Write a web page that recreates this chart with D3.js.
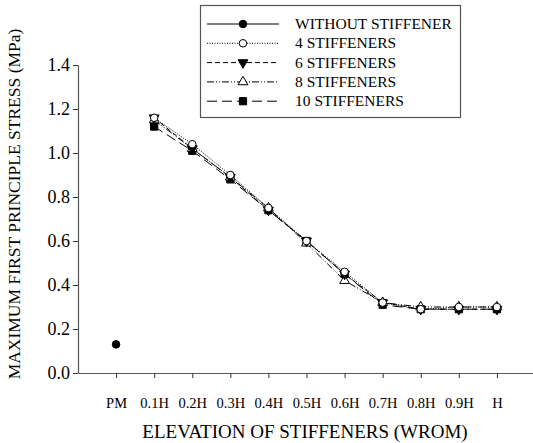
<!DOCTYPE html>
<html><head><meta charset="utf-8">
<script src="https://cdn.jsdelivr.net/npm/d3@7"></script>
<style>body{margin:0;background:#fff}svg{display:block}</style>
</head><body><svg id="c" width="533" height="443" style="font-family:'Liberation Serif','Times New Roman',serif"></svg>
<script>
const categories = ["PM","0.1H","0.2H","0.3H","0.4H","0.5H","0.6H","0.7H","0.8H","0.9H","H"];
const yTicks = [0.0,0.2,0.4,0.6,0.8,1.0,1.2,1.4];
const withoutStiffener = [0.13];
const stiff4  = [1.16,1.04,0.90,0.75,0.60,0.46,0.32,0.29,0.30,0.30];
const stiff6  = [1.16,1.02,0.89,0.74,0.60,0.45,0.32,0.29,0.29,0.29];
const stiff8  = [1.15,1.02,0.89,0.75,0.59,0.42,0.32,0.30,0.30,0.30];
const stiff10 = [1.12,1.01,0.88,0.74,0.60,0.45,0.31,0.29,0.29,0.29];
const seriesNames = ["WITHOUT STIFFENER","4 STIFFENERS","6 STIFFENERS","8 STIFFENERS","10 STIFFENERS"];

const FONT = "Liberation Serif";
const svg = d3.select("#c");
const x = d3.scaleLinear().domain([-1, 11]).range([78, 535]);
const y = d3.scaleLinear().domain([0, 1.4]).range([373, 65]);

const axisColor = "#555";
const gx = svg.append("g").attr("transform","translate(0,373)")
  .call(d3.axisBottom(x).tickValues(d3.range(categories.length)).tickFormat(i=>categories[i]).tickSize(5).tickSizeOuter(0));
const gy = svg.append("g").attr("transform","translate(78,0)")
  .call(d3.axisLeft(y).tickValues(yTicks).tickFormat(d3.format(".1f")).tickSize(5).tickSizeOuter(0));
[gx,gy].forEach(g=>{
  g.attr("font-family",FONT);
  g.select(".domain").attr("stroke",axisColor).attr("stroke-width",1.2);
  g.selectAll(".tick line").attr("stroke","#333");
  g.selectAll(".tick text").attr("fill","#000").style("font-family",FONT);
});
gx.selectAll(".tick text").style("font-size","14.5px").attr("y",25).attr("dy","0.71em");
gy.selectAll(".tick text").style("font-size","18px").attr("x",-8);

svg.append("text").attr("x",305).attr("y",438).attr("text-anchor","middle").style("font-family",FONT).style("font-size","19px").text("ELEVATION OF STIFFENERS (WROM)");
svg.append("text").attr("transform","translate(20,204) rotate(-90)").attr("text-anchor","middle").style("font-family",FONT).style("font-size","17.5px").text("MAXIMUM FIRST PRINCIPLE STRESS (MPa)");

const series = [
  {name:seriesNames[0], vals:withoutStiffener, start:0, dash:null, sym:d3.symbolCircle, fill:"#000", size:45},
  {name:seriesNames[1], vals:stiff4, start:1, dash:"1,1.5", sym:d3.symbolCircle, fill:"#fff", size:45},
  {name:seriesNames[2], vals:stiff6, start:1, dash:"5,3", sym:d3.symbolTriangle, fill:"#000", size:42, rot:180},
  {name:seriesNames[3], vals:stiff8, start:1, dash:"7,2,1,2,1,2", sym:d3.symbolTriangle, fill:"#fff", size:42},
  {name:seriesNames[4], vals:stiff10, start:1, dash:"10,5", sym:d3.symbolSquare, fill:"#000", size:52}
];
const line = d3.line().x(d=>x(d.i)).y(d=>y(d.v));
series.forEach(s=>{
  const pts = s.vals.map((v,k)=>({i:k+s.start, v}));
  if(pts.length>1) svg.append("path").datum(pts).attr("d",line).attr("fill","none").attr("stroke","#000").attr("stroke-width",1).attr("stroke-dasharray",s.dash);
});
series.slice().reverse().forEach(s=>{
  const pts = s.vals.map((v,k)=>({i:k+s.start, v}));
  svg.selectAll(null).data(pts).enter().append("path")
    .attr("d",d3.symbol().type(s.sym).size(s.size))
    .attr("transform",d=>`translate(${x(d.i)},${y(d.v)})${s.rot?" rotate(180)":""}`)
    .attr("fill",s.fill).attr("stroke","#000").attr("stroke-width",1);
});

const lg = svg.append("g");
lg.append("rect").attr("x",200.5).attr("y",5.5).attr("width",260).attr("height",112).attr("fill","#fff").attr("stroke",axisColor).attr("stroke-width",1.2);
series.forEach((s,k)=>{
  const yy = 24 + k*19.3;
  lg.append("line").attr("x1",207).attr("x2",279).attr("y1",yy).attr("y2",yy).attr("stroke","#000").attr("stroke-dasharray",s.dash);
  lg.append("path").attr("d",d3.symbol().type(s.sym).size(s.size)).attr("transform",`translate(243,${yy})${s.rot?" rotate(180)":""}`).attr("fill",s.fill).attr("stroke","#000");
  lg.append("text").attr("x",295).attr("y",yy+5).style("font-family",FONT).style("font-size","15.5px").text(s.name);
});
</script></body></html>
